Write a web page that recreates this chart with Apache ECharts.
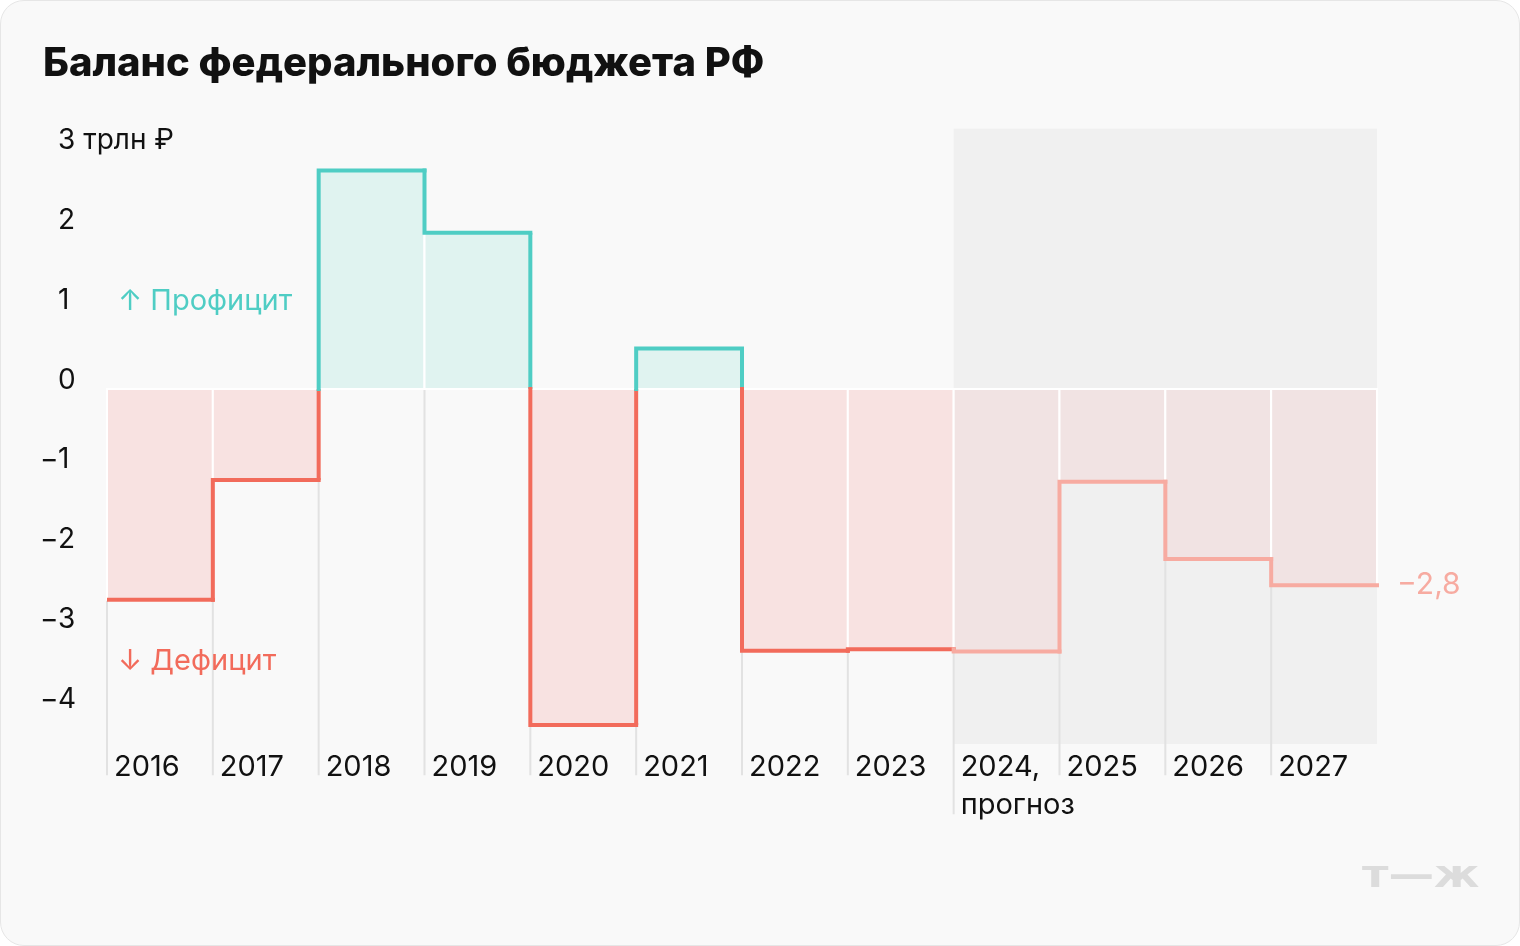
<!DOCTYPE html>
<html>
<head>
<meta charset="utf-8">
<script src="https://cdn.jsdelivr.net/npm/echarts@6/dist/echarts.min.js"></script>
<style>
  html, body { margin: 0; padding: 0; background: #ffffff; }
  #chart {
    width: 1520px; height: 946px; box-sizing: border-box;
    background: #f9f9f9; border: 1.5px solid #e6e6e6; border-radius: 24px; overflow: hidden;
  }
</style>
</head>
<body>
<div id="chart"></div>
<script>
// ---- data ----
const years = ['2016', '2017', '2018', '2019', '2020', '2021', '2022', '2023', '2024,\nпрогноз', '2025', '2026', '2027'];
const balance = [-2.64, -1.14, 2.74, 1.96, -4.21, 0.51, -3.28, -3.26, -3.29, -1.16, -2.13, -2.46];
const forecastFrom = 8;                 // index of first forecast year
const yTickValues = [-4, -3, -2, -1, 0, 1, 2, 3];
const yTickLabels = ['−4', '−3', '−2', '−1', '0', '1', '2', '3 трлн ₽'];
const lastLabel = '−2,8';
const titleText = 'Баланс федерального бюджета РФ';
const surplusText = '↑ Профицит';
const deficitText = '↓ Дефицит';

// ---- styles ----
const FONT = 'Inter, Roboto, "Noto Sans", sans-serif';
const RED = '#f26b5b', CYAN = '#4fcdc4', SALMON = '#f7aba1';
const PINK_FILL = '#f8e2e1', CYAN_FILL = '#e0f3f0', FC_FILL = '#f1e3e3', FC_BG = '#f0f0f0';
const GRID_LINE = '#e2e2e2';
const LW = 4;

// ---- derived series ----
const idx = years.map((_, i) => i);
const fillData = balance.map((v, i) => [i, v]);
const stepData = balance.map((v, i) => [i, v, i > 0 ? balance[i - 1] : NaN]);
const fcBg = [[forecastFrom, balance.length, 3.2625, -4.45]];
const gridLines = idx.map(i => [i, i === forecastFrom ? -5.33 : -4.84]);

function lineEl(pts, color, cap) {
  return { type: 'polyline', shape: { points: pts },
           style: { stroke: color, lineWidth: LW, fill: null, lineJoin: 'miter', lineCap: cap || 'square' } };
}

const chart = echarts.init(document.getElementById('chart'), null, { renderer: 'canvas' });
chart.setOption({
  animation: false,
  backgroundColor: 'transparent',
  title: {
    text: titleText, left: 37, top: 38,
    textStyle: { fontFamily: FONT, fontSize: 40, fontWeight: 800, color: '#111111' }
  },
  grid: { left: 106, right: 142, top: 69, bottom: 157, containLabel: false },
  xAxis: {
    type: 'value', min: 0, max: years.length, interval: 1,
    splitLine: { show: false }, axisLine: { show: false }, axisTick: { show: false },
    axisLabel: {
      formatter: v => years[v] !== undefined ? years[v] : '',
      align: 'left', verticalAlign: 'top', margin: -40, padding: [0, 0, 0, 7],
      fontFamily: FONT, fontSize: 29, lineHeight: 38, color: '#111111'
    }
  },
  yAxis: {
    type: 'value', min: -5, max: 4, interval: 1,
    splitLine: { show: false }, axisLine: { show: false }, axisTick: { show: false },
    axisLabel: {
      formatter: v => {
        const k = yTickValues.indexOf(v);
        if (k < 0) return '';
        const s = yTickLabels[k];
        return s[0] === '−' ? '{m|−}' + s.slice(1) : '{m|}' + s;
      },
      align: 'left', margin: 67, verticalAlign: 'middle', padding: [0, 0, 18, 0],
      fontFamily: FONT, fontSize: 28, color: '#111111',
      rich: { m: { width: 18, fontFamily: FONT, fontSize: 28, color: '#111111' } }
    }
  },
  series: [
    { // forecast background
      type: 'custom', z: 1, silent: true, data: fcBg, clip: false,
      renderItem: (p, api) => {
        const a = api.coord([api.value(0), api.value(2)]);
        const b = api.coord([api.value(1), api.value(3)]);
        return { type: 'rect', shape: { x: a[0], y: a[1], width: b[0] - a[0], height: b[1] - a[1] }, style: { fill: FC_BG } };
      }
    },
    { // vertical grid lines from zero down
      type: 'custom', z: 2, silent: true, data: gridLines, clip: false,
      renderItem: (p, api) => {
        const a = api.coord([api.value(0), 0]);
        const b = api.coord([api.value(0), api.value(1)]);
        return { type: 'line', shape: { x1: a[0], y1: a[1], x2: b[0], y2: b[1] }, style: { stroke: GRID_LINE, lineWidth: 2 } };
      }
    },
    { // fills
      type: 'custom', z: 3, silent: true, data: fillData,
      renderItem: (p, api) => {
        const i = api.value(0), v = api.value(1);
        const a = api.coord([i, 0]);
        const b = api.coord([i + 1, v]);
        const fill = i >= forecastFrom ? FC_FILL : (v >= 0 ? CYAN_FILL : PINK_FILL);
        return { type: 'rect', shape: { x: a[0], y: Math.min(a[1], b[1]), width: b[0] - a[0], height: Math.abs(b[1] - a[1]) },
                 style: { fill: fill, stroke: '#ffffff', lineWidth: 2 } };
      }
    },
    { // step line: leading vertical (from previous value) + horizontal for each year
      type: 'custom', z: 5, silent: true, data: stepData, clip: false,
      renderItem: (p, api) => {
        const i = api.value(0), v = api.value(1), prev = api.value(2);
        const children = [];
        const fc = i >= forecastFrom;
        const colorOf = val => fc ? SALMON : (val >= 0 ? CYAN : RED);
        const last = i === balance.length - 1;
        if (isNaN(prev)) {
          const s = api.coord([i, v]); const e = api.coord([i + 1, v]);
          children.push(lineEl([[s[0] + LW / 2, s[1]], e], colorOf(v)));
        } else if (!fc && (prev < 0) !== (v < 0)) {
          children.push(lineEl([api.coord([i, prev]), api.coord([i, 0])], colorOf(prev), 'butt'));
          children.push(lineEl([api.coord([i, 0]), api.coord([i, v]), api.coord([i + 1, v])], colorOf(v)));
        } else {
          children.push(lineEl([api.coord([i, prev]), api.coord([i, v]), api.coord([i + 1, v])], colorOf(v)));
        }
        if (last) {
          const e = api.coord([i + 1, v]);
          children.push({ type: 'text', x: e[0] + 20, y: e[1],
            style: { text: lastLabel, fill: SALMON, font: '30px ' + FONT, verticalAlign: 'middle', align: 'left' } });
        }
        return { type: 'group', children: children };
      }
    }
  ],
  graphic: [
    { type: 'text', x: 117, y: 300, z: 10, style: { text: surplusText, fill: CYAN, font: '29px ' + FONT, verticalAlign: 'middle' } },
    { type: 'text', x: 117, y: 660, z: 10, style: { text: deficitText, fill: RED, font: '29px ' + FONT, verticalAlign: 'middle' } },
    { type: 'text', x: 1361, y: 876, z: 10, scaleX: 1.2, style: { text: 'т—ж', fill: '#dcdcdc', font: '900 38px "DejaVu Sans", sans-serif', verticalAlign: 'middle' } }
  ]
});
</script>
</body>
</html>
